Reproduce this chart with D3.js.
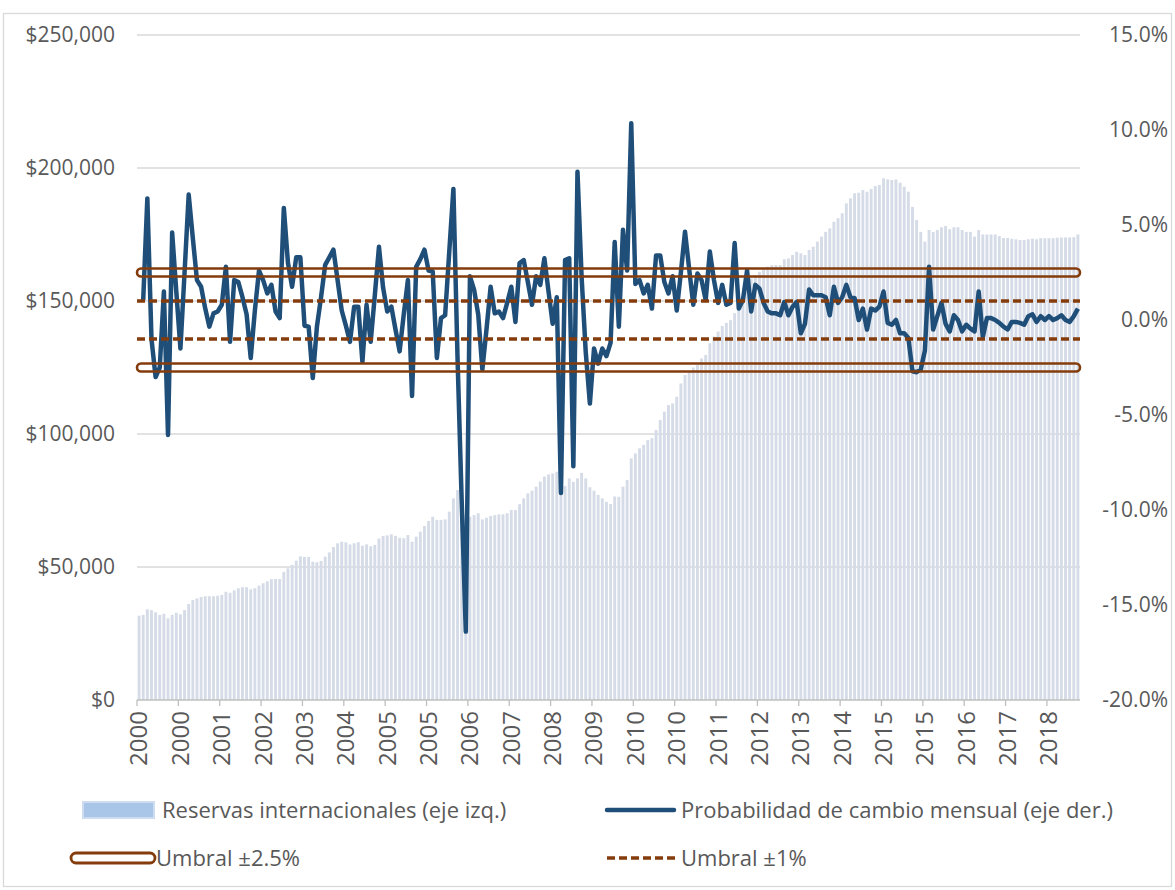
<!DOCTYPE html>
<html>
<head>
<meta charset="utf-8">
<script src="https://cdn.jsdelivr.net/npm/d3@7"></script>
<style>
  body { margin: 0; background: #fff; }
  text { font-family: "Open Sans", "Liberation Sans", sans-serif; fill: #595959; }
</style>
</head>
<body>
<script>
// reservas internacionales (millones de dolares), mensual ene-2000 .. dic-2018
var reservas = [
  31700,32000,34100,33800,33000,32000,32400,30700,32000,32800,
  32200,33800,36100,37600,38200,38700,39000,39000,39000,39200,
  39500,40700,40300,41200,42000,42400,42400,41600,42000,43000,
  43900,44600,45400,45500,45500,48200,49500,50800,52400,54000,
  53800,53800,52000,51800,52300,53900,55500,57500,58900,59500,
  59300,58500,58900,59300,58000,58500,57800,58300,60700,
  61700,61900,62300,61700,61000,60800,62000,59500,61400,63300,
  65400,67300,68900,67700,67700,67900,70800,75800,78900,77700,
  69500,68900,69500,70200,67900,68500,69200,69500,69800,69800,
  70200,71400,71400,73600,75800,77700,78700,80200,82100,84000,
  84800,85200,85800,84500,80400,83300,82000,83300,85400,83300,
  80000,78700,77100,75800,74500,73700,76500,76400,
  80200,82700,90800,92700,94600,95900,97700,98400,101500,105300,
  108400,110900,111500,114000,119000,122200,123500,125000,126000,128400,
  129700,134100,136600,138500,140600,141800,142800,145400,149100,151600,
  154800,158500,159800,161000,162300,162900,163500,163500,163500,165700,
  166000,167300,168500,167900,167300,169200,170400,172300,174200,176000,
  177300,
  179800,181100,183000,186700,188600,190500,190700,191700,191100,192100,
  193200,193600,196100,195700,195500,195700,194500,193000,191100,185400,
  180500,176000,172300,176700,176000,176700,177700,178200,177000,177700,
  177700,176700,176000,176000,174200,176700,175000,175000,175000,175000,
  174400,173700,173700,173400,173200,172900,172900,173200,173400,173200,
  173600,173600,173600,173600,173800,173900,173900,173900,174000,175000
];

// probabilidad de cambio mensual (%)
var cambio = [
  null,1.05,6.4,-1.0,-3.0,-2.5,1.5,-6.05,4.6,1.5,
  -1.5,2.5,6.6,4.3,2.1,1.75,0.6,-0.35,0.35,0.45,
  0.8,2.8,-1.15,2.1,2.0,1.2,0.3,-2.0,0.5,2.6,
  2.1,1.4,1.85,0.45,0.1,5.9,3.0,1.75,3.3,3.3,
  -0.3,-0.35,-3.05,-0.35,1.2,2.9,3.3,3.7,2.1,0.5,
  -0.3,-1.15,0.7,0.7,-2.2,0.8,-1.15,1.3,3.85,1.7,
  0.45,0.7,-0.5,-1.65,0.3,2.1,-4.0,2.8,3.2,3.7,
  2.6,2.55,-2.0,0.1,0.25,3.6,6.9,-2.0,-9.5,-16.4,
  2.3,1.6,0.3,-2.6,-0.5,1.75,0.35,0.45,0.1,0.9,
  1.75,-0.1,3.0,3.15,2.0,0.8,2.3,1.85,3.25,1.5,
  -0.2,1.2,-9.1,3.15,3.25,-7.7,7.8,2.25,-1.7,-4.4,
  -1.5,-2.3,-1.5,-1.9,-1.2,4.1,-0.35,4.75,2.6,10.35,
  1.9,2.1,1.4,1.85,0.6,3.4,3.4,2.0,1.4,2.3,
  0.5,2.5,4.65,2.7,0.8,2.45,2.1,1.05,3.6,2.1,
  0.9,1.85,0.8,0.9,4.05,0.6,1.05,2.6,0.45,1.85,
  1.65,0.9,0.45,0.35,0.35,0.25,0.95,0.25,0.7,0.95,
  -0.7,-0.2,1.6,1.3,1.3,1.3,1.2,0.25,1.75,0.9,
  1.2,1.85,1.2,1.15,0.0,0.6,-0.5,0.6,0.5,0.7,
  1.5,-0.15,-0.25,0.0,-0.7,-0.7,-0.95,-2.7,-2.75,-2.6,
  -1.6,2.8,-0.5,0.2,0.9,-0.2,-0.6,0.25,0.0,-0.6,
  -0.25,-0.45,-0.6,1.5,-0.9,0.1,0.1,0.0,-0.15,-0.35,
  -0.5,-0.1,-0.1,-0.15,-0.25,0.2,0.3,-0.1,0.2,0.0,
  0.2,0.0,0.1,0.25,0.0,-0.1,0.2,0.6
];

var umbralAlto = [2.5, -2.5];
var umbralBajo = [1, -1];

var leftTicks = [0, 50000, 100000, 150000, 200000, 250000];
var rightTicks = [-20, -15, -10, -5, 0, 5, 10, 15];

// categorias: meses desde ene-2000
var meses = d3.timeMonth.range(new Date(2000, 0, 1), new Date(2019, 0, 1));
var tickEvery = 10;

var width = 1175, height = 890;
var plotL = 137, plotR = 1080, plotT = 35, plotB = 700;

var svg = d3.select("body").append("svg")
    .attr("width", width)
    .attr("height", height);

// marco
svg.append("rect")
    .attr("x", 3.5).attr("y", 13.5)
    .attr("width", 1168).attr("height", 873)
    .attr("fill", "none").attr("stroke", "#d9d9d9").attr("stroke-width", 1.3);

var x = d3.scaleBand()
    .domain(d3.range(meses.length))
    .range([plotL, plotR])
    .paddingInner(0.3)
    .paddingOuter(0.15);

var yL = d3.scaleLinear().domain([0, 250000]).range([plotB, plotT]);
var yR = d3.scaleLinear().domain([-20, 15]).range([plotB, plotT]);

function cx(i) { return plotL + x.step() * (i + 0.5); }

// gridlines
svg.append("g").selectAll("line")
    .data(leftTicks.filter(function(d) { return d > 0; }))
    .enter().append("line")
    .attr("x1", plotL).attr("x2", plotR)
    .attr("y1", function(d) { return yL(d); })
    .attr("y2", function(d) { return yL(d); })
    .attr("stroke", "#d9d9d9").attr("stroke-width", 1.3);

// barras
svg.append("g").selectAll("rect")
    .data(reservas)
    .enter().append("rect")
    .attr("x", function(d, i) { return x(i); })
    .attr("width", x.bandwidth())
    .attr("y", function(d) { return yL(d); })
    .attr("height", function(d) { return plotB - yL(d); })
    .attr("fill", "#d5dce7");

// eje x
svg.append("line")
    .attr("x1", plotL).attr("x2", plotR)
    .attr("y1", plotB).attr("y2", plotB)
    .attr("stroke", "#bfbfbf").attr("stroke-width", 1.3);

var tickIdx = d3.range(0, meses.length, tickEvery);
svg.append("g").selectAll("line")
    .data(tickIdx)
    .enter().append("line")
    .attr("x1", function(i) { return plotL + x.step() * i; })
    .attr("x2", function(i) { return plotL + x.step() * i; })
    .attr("y1", plotB).attr("y2", plotB + 6)
    .attr("stroke", "#bfbfbf").attr("stroke-width", 1.3);

svg.append("g").selectAll("text")
    .data(tickIdx)
    .enter().append("text")
    .attr("transform", function(i) { return "translate(" + cx(i) + "," + (plotB + 11) + ") rotate(-90)"; })
    .attr("text-anchor", "end")
    .attr("dy", "0.35em")
    .style("font-size", "24px")
    .text(function(i) { return meses[i].getFullYear(); });

// eje izq
var fmtL = d3.format(",");
svg.append("g").selectAll("text")
    .data(leftTicks)
    .enter().append("text")
    .attr("x", 115)
    .attr("y", function(d) { return yL(d); })
    .attr("dy", "0.35em")
    .attr("text-anchor", "end")
    .style("font-size", "21px")
    .text(function(d) { return "$" + fmtL(d); });

// eje der
var fmtR = d3.format(".1f");
svg.append("g").selectAll("text")
    .data(rightTicks)
    .enter().append("text")
    .attr("x", 1168)
    .attr("y", function(d) { return yR(d); })
    .attr("dy", "0.35em")
    .attr("text-anchor", "end")
    .style("font-size", "21px")
    .text(function(d) { return fmtR(d).replace("\u2212", "-") + "%"; });

// linea
var line = d3.line()
    .defined(function(d) { return d != null; })
    .x(function(d, i) { return cx(i); })
    .y(function(d) { return yR(d); });

svg.append("path")
    .datum(cambio)
    .attr("d", line)
    .attr("fill", "none")
    .attr("stroke", "#1f4e79")
    .attr("stroke-width", 4.5)
    .attr("stroke-linejoin", "round");

// umbral 1%
svg.append("g").selectAll("line")
    .data(umbralBajo)
    .enter().append("line")
    .attr("x1", plotL).attr("x2", plotR)
    .attr("y1", function(d) { return yR(d); })
    .attr("y2", function(d) { return yR(d); })
    .attr("stroke", "#843c0c").attr("stroke-width", 3.5)
    .attr("stroke-dasharray", "8,4");

// umbral 2.5% (linea doble)
svg.append("g").selectAll("rect")
    .data(umbralAlto)
    .enter().append("rect")
    .attr("x", plotL).attr("width", plotR - plotL)
    .attr("y", function(d) { return yR(d) - 4; })
    .attr("height", 8)
    .attr("rx", 4)
    .attr("fill", "none")
    .attr("stroke", "#843c0c").attr("stroke-width", 2.6);

// leyenda
var lg = svg.append("g");
lg.append("rect")
    .attr("x", 83).attr("y", 802).attr("width", 71).attr("height", 16)
    .attr("fill", "#a9c5e8").attr("stroke", "#cddcf0").attr("stroke-width", 2);
lg.append("text").attr("x", 162).attr("y", 810).attr("dy", "0.35em")
    .style("font-size", "22px").text("Reservas internacionales (eje izq.)");

lg.append("line")
    .attr("x1", 607).attr("x2", 674).attr("y1", 810).attr("y2", 810)
    .attr("stroke", "#1f4e79").attr("stroke-width", 4.5).attr("stroke-linecap", "round");
lg.append("text").attr("x", 681).attr("y", 810).attr("dy", "0.35em")
    .style("font-size", "22px").text("Probabilidad de cambio mensual (eje der.)");

lg.append("rect")
    .attr("x", 71).attr("y", 853).attr("width", 84).attr("height", 10).attr("rx", 5)
    .attr("fill", "#fff").attr("stroke", "#843c0c").attr("stroke-width", 2.8);
lg.append("text").attr("x", 156).attr("y", 858).attr("dy", "0.35em")
    .style("font-size", "22px").text("Umbral ±2.5%");

lg.append("line")
    .attr("x1", 607).attr("x2", 675).attr("y1", 858).attr("y2", 858)
    .attr("stroke", "#843c0c").attr("stroke-width", 3.5).attr("stroke-dasharray", "8,4");
lg.append("text").attr("x", 681).attr("y", 858).attr("dy", "0.35em")
    .style("font-size", "22px").text("Umbral ±1%");
</script>
</body>
</html>
